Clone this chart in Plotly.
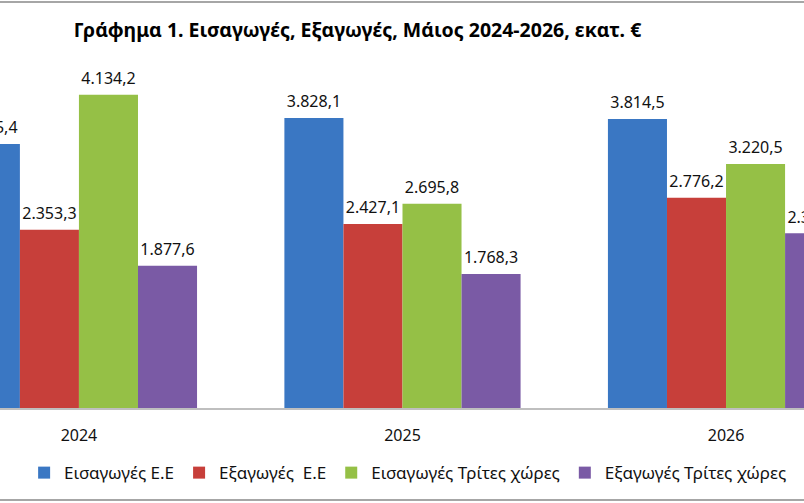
import plotly.graph_objects as go

years = ["2024", "2025", "2026"]
series_names = ["Εισαγωγές Ε.Ε", "Εξαγωγές  Ε.Ε", "Εισαγωγές Τρίτες χώρες", "Εξαγωγές Τρίτες χώρες"]
imports_eu = [3485.4, 3828.1, 3814.5]
exports_eu = [2353.3, 2427.1, 2776.2]
imports_third = [4134.2, 2695.8, 3220.5]
exports_third = [1877.6, 1768.3, 2306.1]
colors = ["#3a77c3", "#c73f3a", "#95c046", "#7a5aa5"]

values = [imports_eu, exports_eu, imports_third, exports_third]

fig = go.Figure()
for name, vals, col in zip(series_names, values, colors):
    fig.add_trace(go.Bar(
        x=years, y=vals, name=name,
        marker=dict(color=col, line=dict(width=0)),
    ))
# value labels, grouped like the bars
for name, vals in zip(series_names, values):
    fig.add_trace(go.Scatter(
        x=years, y=vals, name=name, mode="markers+text", showlegend=False,
        marker=dict(size=9, opacity=0),
        texttemplate="%{y:,.1f}", textposition="top center",
        textfont=dict(family="Noto Sans", size=16, color="#111111"),
        cliponaxis=True, hoverinfo="skip",
    ))

fig.update_layout(
    width=804, height=503,
    margin=dict(l=0, r=0, t=60, b=95),
    paper_bgcolor="white", plot_bgcolor="white",
    separators=",.",
    barmode="group", bargap=0.27, bargroupgap=0,
    scattermode="group", scattergap=0.27,
    title=dict(text="<b>Γράφημα 1. Εισαγωγές, Εξαγωγές, Μάιος 2024-2026, εκατ. €</b>",
               x=0.4447, xanchor="center", y=0.94, yanchor="middle",
               font=dict(family="Noto Sans", size=19.5, color="#000000")),
    xaxis=dict(type="category", range=[-0.244, 2.241], showline=True,
               linecolor="#bfbfbf", linewidth=2, ticks="", showgrid=False,
               tickfont=dict(family="Noto Sans", size=16, color="#111111"),
               ticklabelstandoff=12),
    yaxis=dict(range=[0, 4593], visible=False, showgrid=False),
    legend=dict(orientation="h", x=0.030, xanchor="left", y=-0.187, yanchor="middle",
                font=dict(family="Noto Sans", size=17, color="#111111"),
                itemwidth=30, traceorder="normal"),
    showlegend=True,
    shapes=[
        dict(type="line", xref="paper", yref="paper", x0=0, x1=1, y0=1.1667, y1=1.1667,
             line=dict(color="#a6a6a6", width=2)),
        dict(type="line", xref="paper", yref="paper", x0=0, x1=1, y0=-0.2644, y1=-0.2644,
             line=dict(color="#a6a6a6", width=2)),
    ],
)

fig.write_html("out.html")
